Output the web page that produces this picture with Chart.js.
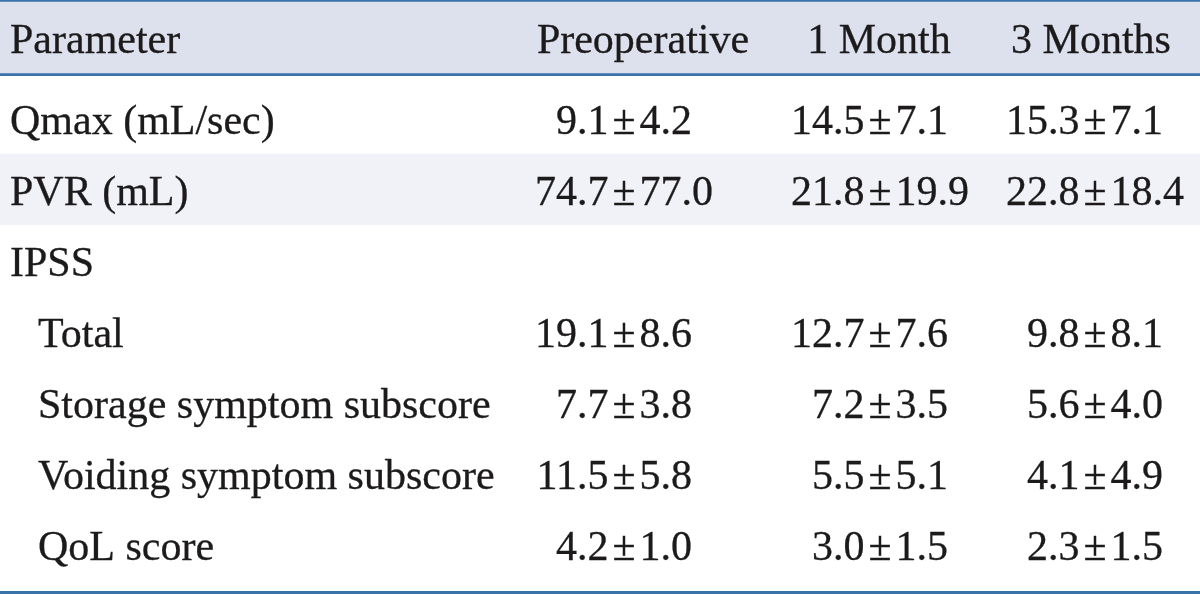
<!DOCTYPE html>
<html>
<head>
<meta charset="utf-8">
<script src="https://cdn.jsdelivr.net/npm/chart.js@4/dist/chart.umd.min.js"></script>
<style>
  body { margin: 0; background: #fff; }
  #wrap { width: 1200px; height: 594px; position: relative; }
</style>
</head>
<body>
<div id="wrap"><canvas id="tableChart"></canvas></div>
<script>
'use strict';

// table content
let columns = ['Preoperative', '1 Month', '3 Months'];
let parameters = ['Qmax (mL/sec)', 'PVR (mL)', 'IPSS', 'Total', 'Storage symptom subscore', 'Voiding symptom subscore', 'QoL score'];
let subRow = [false, false, false, true, true, true, true];
let preMean = [9.1, 74.7, null, 19.1, 7.7, 11.5, 4.2];
let preSd = [4.2, 77.0, null, 8.6, 3.8, 5.8, 1.0];
let month1Mean = [14.5, 21.8, null, 12.7, 7.2, 5.5, 3.0];
let month1Sd = [7.1, 19.9, null, 7.6, 3.5, 5.1, 1.5];
let month3Mean = [15.3, 22.8, null, 9.8, 5.6, 4.1, 2.3];
let month3Sd = [7.1, 18.4, null, 8.1, 4.0, 4.9, 1.5];
let shadedRows = [-1, 1]; // -1 = header row

let means = [preMean, month1Mean, month3Mean];
let sds = [preSd, month1Sd, month3Sd];

// layout (in reference pixels, mapped through the scales)
let headerBase = 53;
let firstBase = 134;
let rowStep = 71;
let pmX = [624, 880, 1095];
let headX = [643, 879, 1091];
let font = '42px "Liberation Serif", "Times New Roman", serif';
let ink = '#1c1a1b';

function baseOf(i) {
  return i < 0 ? headerBase : firstBase + i * rowStep;
}

let bands = shadedRows.map(function (r) {
  return { y: baseOf(r) - 15.5, x: [0, 1200] };
});

function put(ctx, text, x, y) {
  ctx.fillText(text, x, y);
  ctx.strokeText(text, x, y);
}

let tableText = {
  id: 'tableText',
  afterDraw(chart) {
    let ctx = chart.ctx;
    let xs = chart.scales.x;
    let ys = chart.scales.y;
    ctx.save();
    ctx.font = font;
    ctx.fillStyle = ink;
    ctx.strokeStyle = ink;
    ctx.lineWidth = 0.3;
    ctx.textBaseline = 'alphabetic';

    // header
    ctx.textAlign = 'left';
    put(ctx, 'Parameter', xs.getPixelForValue(10), ys.getPixelForValue(headerBase));
    ctx.textAlign = 'center';
    for (let c = 0; c < columns.length; c++) {
      put(ctx, columns[c], xs.getPixelForValue(headX[c]), ys.getPixelForValue(headerBase));
    }

    // body
    for (let i = 0; i < parameters.length; i++) {
      let y = ys.getPixelForValue(baseOf(i));
      ctx.textAlign = 'left';
      put(ctx, parameters[i], xs.getPixelForValue(subRow[i] ? 38 : 10), y);
      for (let c = 0; c < columns.length; c++) {
        let m = means[c][i];
        let s = sds[c][i];
        if (m === null) continue;
        let px = xs.getPixelForValue(pmX[c]);
        ctx.textAlign = 'right';
        put(ctx, m.toFixed(1), px - 15.5, y);
        ctx.textAlign = 'center';
        put(ctx, '\u00b1', px, y);
        ctx.textAlign = 'left';
        put(ctx, s.toFixed(1), px + 15.5, y);
      }
    }
    ctx.restore();
  }
};

let ctx = document.getElementById('tableChart').getContext('2d');
let myChart = new Chart(ctx, {
  type: 'bar',
  data: {
    datasets: [{
      data: bands,
      backgroundColor: ['#dde1ee', '#f1f2f7'],
      borderWidth: 0,
      barThickness: 71
    }]
  },
  options: {
    indexAxis: 'y',
    responsive: true,
    maintainAspectRatio: false,
    animation: false,
    layout: { padding: 0 },
    plugins: { legend: { display: false }, tooltip: { enabled: false } },
    scales: {
      x: { type: 'linear', min: 0, max: 1200, display: false, offset: false },
      y: {
        type: 'linear',
        reverse: true,
        min: 0,
        max: 594,
        offset: false,
        z: 1,
        afterBuildTicks: function (scale) {
          scale.ticks = [1.5, 74.5, 592.5].map(function (v) { return { value: v }; });
        },
        grid: { color: '#3a73a9', lineWidth: 3, drawTicks: false, offset: false },
        border: { display: false },
        ticks: { display: false, padding: 0 }
      }
    }
  },
  plugins: [tableText]
});
</script>
</body>
</html>
